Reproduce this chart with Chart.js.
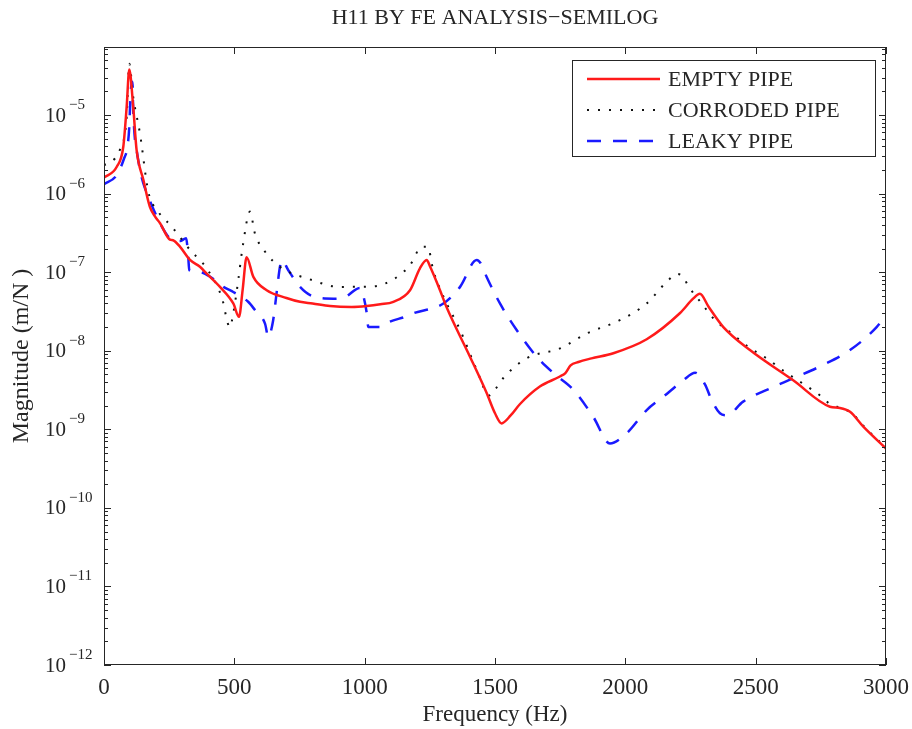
<!DOCTYPE html>
<html>
<head>
<meta charset="utf-8">
<title>H11 by FE analysis</title>
<script src="https://cdn.jsdelivr.net/npm/chart.js@4.4.0/dist/chart.umd.min.js"></script>
<style>
  html, body { margin: 0; padding: 0; background: #fff; }
</style>
</head>
<body>
<canvas id="h11Chart" width="912" height="729"></canvas>
<script>
// values
const seriesNames = ['EMPTY PIPE', 'CORRODED PIPE', 'LEAKY PIPE'];

const emptyFreq = [0, 49, 74, 87, 97, 112, 125, 151, 176, 196, 215, 253, 265, 292, 330, 368, 394, 445, 496, 518, 532, 547, 573, 624, 700, 752, 800, 867, 950, 1008, 1060, 1110, 1174, 1212, 1238, 1250, 1289, 1314, 1404, 1468, 1500, 1525, 1560, 1596, 1672, 1749, 1770, 1790, 1820, 1870, 1954, 2082, 2209, 2260, 2286, 2320, 2376, 2478, 2644, 2785, 2823, 2862, 2913, 3000];
const emptyMag = [1.6e-6, 2.2e-6, 3.95e-6, 1.28e-5, 3.8e-5, 1.28e-5, 3.6e-6, 1.5e-6, 6.8e-7, 5.1e-7, 4.2e-7, 2.6e-7, 2.55e-7, 2.1e-7, 1.43e-7, 1.17e-7, 9.6e-8, 6.5e-8, 4.0e-8, 2.7e-8, 6.0e-8, 1.55e-7, 8.7e-8, 5.9e-8, 4.7e-8, 4.2e-8, 4.0e-8, 3.7e-8, 3.6e-8, 3.7e-8, 3.9e-8, 4.2e-8, 5.9e-8, 1.12e-7, 1.43e-7, 1.2e-7, 5.9e-8, 3.6e-8, 8.4e-9, 2.9e-9, 1.6e-9, 1.19e-9, 1.5e-9, 2.1e-9, 3.5e-9, 4.7e-9, 5.2e-9, 6.5e-9, 7.2e-9, 8.0e-9, 9.3e-9, 1.4e-8, 3.0e-8, 4.6e-8, 5.3e-8, 3.6e-8, 2.0e-8, 1.02e-8, 4.2e-9, 1.94e-9, 1.87e-9, 1.67e-9, 1.08e-9, 5.7e-10];

const corrodedFreq = [0, 42, 64, 77, 87, 97, 112, 138, 170, 208, 260, 336, 368, 394, 451, 483, 496, 515, 532, 560, 579, 618, 675, 790, 905, 1033, 1110, 1174, 1219, 1242, 1263, 1302, 1366, 1430, 1478, 1500, 1532, 1621, 1749, 1852, 1979, 2082, 2158, 2200, 2222, 2241, 2293, 2344, 2408, 2472, 2542, 2612, 2682, 2747, 2785, 2830, 2870, 2920, 3000];
const corrodedMag = [2.3e-6, 2.8e-6, 3.8e-6, 5.0e-6, 9.5e-6, 4.5e-5, 1.7e-5, 5.8e-6, 1.06e-6, 5.9e-7, 3.8e-7, 1.82e-7, 1.43e-7, 1.12e-7, 4.9e-8, 2.0e-8, 3.0e-8, 7.9e-8, 2.1e-7, 5.9e-7, 3.1e-7, 1.82e-7, 1.17e-7, 8.1e-8, 6.5e-8, 6.6e-8, 8.1e-8, 1.23e-7, 2.1e-7, 2.1e-7, 1.06e-7, 4.9e-8, 1.84e-8, 5.7e-9, 2.7e-9, 3.2e-9, 4.5e-9, 8.0e-9, 1.07e-8, 1.66e-8, 2.45e-8, 4.0e-8, 7.5e-8, 9.5e-8, 8.7e-8, 6.7e-8, 4.0e-8, 2.45e-8, 1.66e-8, 1.12e-8, 8.0e-9, 5.4e-9, 3.8e-9, 2.7e-9, 2.1e-9, 1.85e-9, 1.6e-9, 1.05e-9, 5.8e-10];

const leakyFreq = [0, 49, 77, 90, 97, 102, 109, 112, 119, 125, 138, 151, 170, 183, 215, 253, 292, 315, 323, 327, 368, 413, 458, 496, 553, 579, 618, 630, 649, 662, 675, 682, 707, 752, 803, 880, 918, 982, 992, 1008, 1014, 1059, 1097, 1155, 1187, 1302, 1366, 1430, 1445, 1468, 1519, 1583, 1660, 1724, 1800, 1877, 1941, 2005, 2082, 2146, 2222, 2268, 2306, 2331, 2363, 2389, 2452, 2554, 2644, 2759, 2862, 2964, 3000];
const leakyMag = [1.32e-6, 1.72e-6, 2.8e-6, 3.95e-6, 7.1e-6, 1.89e-5, 2.66e-5, 1.16e-5, 4.8e-6, 3.6e-6, 2.0e-6, 1.35e-6, 9.1e-7, 7.1e-7, 4.2e-7, 2.7e-7, 2.5e-7, 2.7e-7, 1.6e-7, 1.06e-7, 1.0e-7, 8.5e-8, 6.5e-8, 5.6e-8, 4.2e-8, 3.3e-8, 2.2e-8, 1.5e-8, 2.45e-8, 5.4e-8, 1.17e-7, 1.43e-7, 1.06e-7, 6.5e-8, 4.9e-8, 4.6e-8, 4.7e-8, 6.3e-8, 5.4e-8, 3.0e-8, 2.0e-8, 2.0e-8, 2.35e-8, 2.7e-8, 3.0e-8, 4.0e-8, 6.5e-8, 1.43e-7, 1.3e-7, 8.7e-8, 4.0e-8, 1.84e-8, 8.4e-9, 5.2e-9, 3.2e-9, 1.44e-9, 6.6e-10, 8.9e-10, 1.76e-9, 2.6e-9, 4.2e-9, 5.25e-9, 3.7e-9, 2.36e-9, 1.6e-9, 1.51e-9, 2.25e-9, 3.3e-9, 4.45e-9, 6.6e-9, 1.02e-8, 2.0e-8, 2.85e-8];

const xTickValues = [0, 500, 1000, 1500, 2000, 2500, 3000];
const yDecadeExps = [-12, -11, -10, -9, -8, -7, -6, -5];

const textColor = '#262626';
const serif = '"Liberation Serif", "Times New Roman", serif';

function toPoints(freq, mag) {
    return freq.map((f, i) => ({ x: f, y: mag[i] }));
}

// box, inward ticks, superscript y labels, y title and the boxed legend
const frameDecor = {
    id: 'frameDecor',
    afterDraw(chart) {
        const { ctx, chartArea: a, scales: { x, y } } = chart;
        ctx.save();
        ctx.strokeStyle = textColor;
        ctx.lineWidth = 1;

        const seg = (x1, y1, x2, y2) => {
            ctx.beginPath();
            ctx.moveTo(x1, y1);
            ctx.lineTo(x2, y2);
            ctx.stroke();
        };

        ctx.strokeRect(a.left + 0.5, a.top + 0.5, a.right - a.left - 1, a.bottom - a.top - 1);

        xTickValues.forEach(v => {
            const px = Math.round(x.getPixelForValue(v)) + 0.5;
            seg(px, a.bottom, px, a.bottom - 7);
            seg(px, a.top, px, a.top + 7);
        });

        const yMax = y.max;
        yDecadeExps.forEach(e => {
            for (let k = 1; k < 10; k++) {
                const v = k * Math.pow(10, e);
                if (v > yMax) break;
                const py = Math.round(y.getPixelForValue(v)) + 0.5;
                const len = k === 1 ? 7 : 4;
                seg(a.left, py, a.left + len, py);
                seg(a.right, py, a.right - len, py);
            }
        });

        // y tick labels: 10 with a raised exponent
        ctx.fillStyle = textColor;
        yDecadeExps.forEach(e => {
            const py = y.getPixelForValue(Math.pow(10, e));
            ctx.font = '21px ' + serif;
            ctx.textAlign = 'right';
            ctx.textBaseline = 'middle';
            ctx.fillText('10', 66, py + 1);
            ctx.font = '15px ' + serif;
            ctx.textAlign = 'left';
            ctx.fillText('\u2212' + Math.abs(e), 69, py - 10);
        });

        // y axis title
        ctx.save();
        ctx.translate(22, (a.top + a.bottom) / 2);
        ctx.rotate(-Math.PI / 2);
        ctx.font = '24px ' + serif;
        ctx.textAlign = 'center';
        ctx.textBaseline = 'middle';
        ctx.fillText('Magnitude (m/N )', 0, 0);
        ctx.restore();

        // legend box
        const bx = a.right - 314, by = a.top + 13, bw = 303, bh = 96;
        ctx.fillStyle = '#fff';
        ctx.fillRect(bx, by, bw, bh);
        ctx.strokeStyle = textColor;
        ctx.strokeRect(bx + 0.5, by + 0.5, bw, bh);
        chart.data.datasets.forEach((ds, i) => {
            const ly = by + 19 + i * 31;
            ctx.strokeStyle = ds.borderColor;
            ctx.lineWidth = ds.borderWidth;
            ctx.setLineDash(ds.borderDash || []);
            ctx.beginPath();
            ctx.moveTo(bx + 15, ly);
            ctx.lineTo(bx + 88, ly);
            ctx.stroke();
            ctx.setLineDash([]);
            ctx.fillStyle = textColor;
            ctx.font = '22px ' + serif;
            ctx.textAlign = 'left';
            ctx.textBaseline = 'middle';
            ctx.fillText(ds.label, bx + 96, ly + 1);
        });
        ctx.restore();
    }
};

const ctx = document.getElementById('h11Chart').getContext('2d');
const chart = new Chart(ctx, {
    type: 'line',
    data: {
        datasets: [{
            label: seriesNames[0],
            data: toPoints(emptyFreq, emptyMag),
            borderColor: '#ff1a1a',
            borderWidth: 2.5,
            cubicInterpolationMode: 'monotone'
        }, {
            label: seriesNames[1],
            data: toPoints(corrodedFreq, corrodedMag),
            borderColor: '#111111',
            borderWidth: 2,
            borderDash: [2, 9],
            cubicInterpolationMode: 'monotone'
        }, {
            label: seriesNames[2],
            data: toPoints(leakyFreq, leakyMag),
            borderColor: '#1a1aff',
            borderWidth: 2.5,
            borderDash: [14, 12],
            cubicInterpolationMode: 'monotone'
        }]
    },
    options: {
        responsive: false,
        animation: false,
        layout: { padding: { left: 0, right: 26, top: 0, bottom: 0 } },
        elements: { point: { radius: 0 } },
        scales: {
            x: {
                type: 'linear',
                min: 0,
                max: 3000,
                grid: { display: false, drawTicks: false },
                border: { display: false },
                ticks: {
                    stepSize: 500,
                    padding: 9,
                    color: textColor,
                    font: { family: serif, size: 23 },
                    maxRotation: 0,
                    callback: v => String(v)
                },
                title: {
                    display: true,
                    text: 'Frequency (Hz)',
                    color: textColor,
                    font: { family: serif, size: 23 },
                    padding: { top: 0, bottom: 0 }
                },
                afterFit: axis => {
                    axis.height = 64;
                    axis.paddingLeft = 0;
                    axis.paddingRight = 0;
                }
            },
            y: {
                type: 'logarithmic',
                min: 1e-12,
                max: 7.35e-5,
                grid: { display: false, drawTicks: false },
                border: { display: false },
                ticks: { display: false },
                afterFit: axis => {
                    axis.width = 104;
                    axis.paddingTop = 0;
                    axis.paddingBottom = 0;
                }
            }
        },
        plugins: {
            legend: { display: false },
            tooltip: { enabled: false },
            title: {
                display: true,
                text: 'H11 BY FE ANALYSIS\u2212SEMILOG',
                fullSize: false,
                color: textColor,
                font: { family: serif, size: 22, weight: 'normal' },
                padding: { top: 5, bottom: 15.6 }
            }
        }
    },
    plugins: [frameDecor]
});
</script>
</body>
</html>
